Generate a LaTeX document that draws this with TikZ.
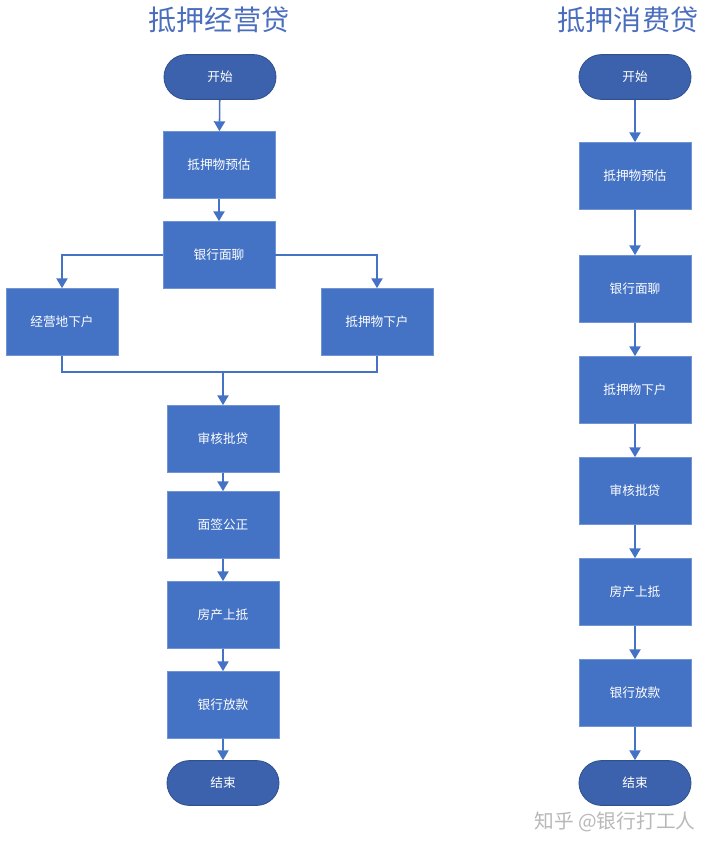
\documentclass[tikz,border=0pt]{standalone}
\usepackage{fontspec}
\setmainfont{Noto Sans CJK SC}
\usepackage{xcolor}
\usetikzlibrary{shapes.misc,arrows.meta,positioning,calc}

\definecolor{boxblue}{HTML}{4472C4}
\definecolor{boxedge}{HTML}{7094D4}
\definecolor{termblue}{HTML}{3C62AD}
\definecolor{termedge}{HTML}{2F528F}
\definecolor{titleblue}{HTML}{4A6EBD}
\definecolor{markgray}{HTML}{B8B8B8}

\begin{document}
\begin{tikzpicture}[x=0.025cm, y=-0.025cm,
    stepbox/.style={rectangle, fill=boxblue, draw=boxedge, line width=0.5pt,
        minimum width=2.8cm, minimum height=1.675cm, inner sep=0pt,
        text=white, font=\fontsize{9pt}{11pt}\selectfont},
    term/.style={rounded rectangle, fill=termblue, draw=termedge, line width=0.6pt,
        minimum width=2.8cm, minimum height=1.12cm, inner sep=0pt,
        text=white, font=\fontsize{9pt}{11pt}\selectfont},
    heading/.style={text=titleblue, font=\fontsize{20pt}{24pt}\selectfont},
    arr/.style={draw=boxblue, line width=1.1pt,
        -{Triangle[width=8pt, length=7pt]}},
    ln/.style={draw=boxblue, line width=1.1pt}]
\useasboundingbox (0,0) rectangle (720,850);

% Titles
\node[heading] (t1) at (219,20) {抵押经营贷};
\node[heading] (t2) at (628,20) {抵押消费贷};

% Left flow: business loan
\node[term] (a0) at (220,77) {开始};
\node[stepbox] (a1) at (219,165) {抵押物预估};
\node[stepbox] (a2) at (219,255) {银行面聊};
\node[stepbox] (a3) at (62,322) {经营地下户};
\node[stepbox] (a4) at (377,322) {抵押物下户};
\coordinate (amerge) at (223,372);
\node[stepbox] (a5) at (223,439) {审核批贷};
\node[stepbox] (a6) at (223,525) {面签公正};
\node[stepbox] (a7) at (223,615) {房产上抵};
\node[stepbox] (a8) at (223,705) {银行放款};
\node[term] (a9) at (223,783) {结束};

\draw[arr] (a0) -- (a1);
\draw[arr] (a1) -- (a2);
\draw[arr] (a2.west) -| (a3.north);
\draw[arr] (a2.east) -| (a4.north);
\draw[ln] (a3.south) |- (amerge) -| (a4.south);
\draw[arr] (amerge) -- (a5.north);
\draw[arr] (a5) -- (a6);
\draw[arr] (a6) -- (a7);
\draw[arr] (a7) -- (a8);
\draw[arr] (a8) -- (a9);

% Right flow: consumer loan
\node[term] (b0) at (635,77) {开始};
\node[stepbox] (b1) at (635,176) {抵押物预估};
\node[stepbox] (b2) at (635,289) {银行面聊};
\node[stepbox] (b3) at (635,390) {抵押物下户};
\node[stepbox] (b4) at (635,491) {审核批贷};
\node[stepbox] (b5) at (635,592) {房产上抵};
\node[stepbox] (b6) at (635,693) {银行放款};
\node[term] (b7) at (635,783) {结束};

\foreach \i/\j in {b0/b1, b1/b2, b2/b3, b3/b4, b4/b5, b5/b6, b6/b7}
    \draw[arr] (\i) -- (\j);

% Watermark
\node[text=markgray, font=\fontsize{14pt}{16pt}\selectfont] (wm) at (615,822) {知乎 @银行打工人};
\end{tikzpicture}
\end{document}
